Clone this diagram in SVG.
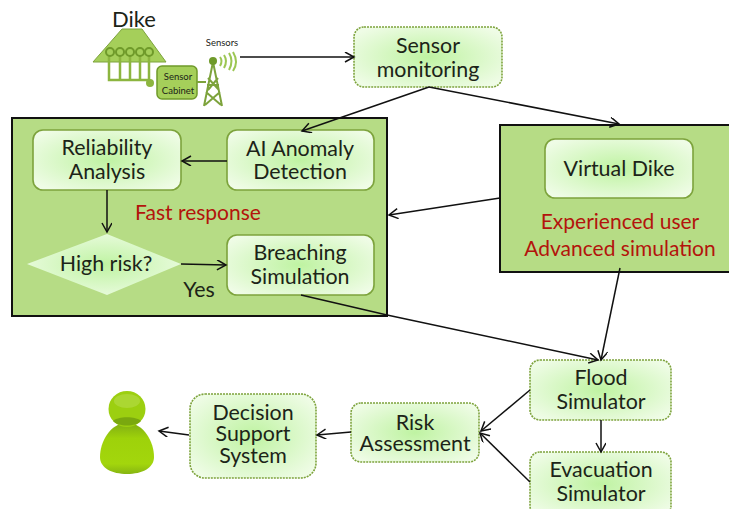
<svg xmlns="http://www.w3.org/2000/svg" width="729" height="509" viewBox="0 0 729 509">
<style>
text{font-family:Lato,"Open Sans","Liberation Sans",sans-serif;fill:#1c2418;text-anchor:middle}
.n{font-size:21.4px}
.r{font-size:21px;fill:#b3140c}
.box{fill:url(#g);stroke:#7da33c;stroke-width:1.6}
.dash{stroke-dasharray:2 1}
.panel{fill:#b6dc85;stroke:#111;stroke-width:2}
.c{fill:none;stroke:#111;stroke-width:1.5;marker-end:url(#a)}
.g1{fill:none;stroke:#8cb53f;stroke-width:2.5}
</style>
<defs>
<radialGradient id="g" cx="50%" cy="50%" r="62%"><stop offset="0" stop-color="#bff3a2"/><stop offset="1" stop-color="#effcE6"/></radialGradient>
<marker id="a" markerWidth="12" markerHeight="12" refX="10" refY="5" orient="auto" markerUnits="userSpaceOnUse"><path d="M1 0L10 5L1 10" fill="none" stroke="#111" stroke-width="1.5"/></marker>
<linearGradient id="p" x1="0" y1="0" x2="0" y2="1"><stop offset="0" stop-color="#80ad14"/><stop offset=".3" stop-color="#9ed20a"/><stop offset=".8" stop-color="#a3d60c"/><stop offset="1" stop-color="#86b512"/></linearGradient>
</defs>
<rect id="fast-panel" class="panel" x="12" y="118" width="375" height="198"/>
<rect id="virtual-panel" class="panel" x="500" y="125" width="232" height="147"/>
<g id="dike">
<text x="134" y="27" style="font-size:22px">Dike</text>
<path d="M93 62L122 29H142L166 62Z" fill="#a5cf5a" stroke="#7da33c"/>
<g class="g1"><path d="M109 56V80H150M120 56V80M130 56V80M140 56V80M149 56V80"/></g>
<g fill="#a5cf5a" stroke="#6f9a2a" stroke-width="2"><circle cx="110" cy="52" r="4"/><circle cx="120" cy="52" r="4"/><circle cx="130" cy="52" r="4"/><circle cx="140" cy="52" r="4"/><circle cx="149" cy="52" r="4"/></g>
<circle cx="150" cy="83" r="4" fill="#8cb53f"/>
</g>
<g id="sensor-cabinet">
<rect x="157" y="66" width="40" height="33" rx="5" fill="#a5cf5a" stroke="#6f9a2a" stroke-width="1.5"/>
<text x="178" y="80" style="font-size:9.5px">Sensor</text>
<text x="178" y="94" style="font-size:9.5px">Cabinet</text>
</g>
<g id="sensors">
<text x="222" y="46" style="font-size:9.5px">Sensors</text>
<path d="M197 82H206M213 62L204 106M213 62L222 106M207 85H219M206 92L221 105M220 92L205 105M208 78L219 90M218 78L208 90" fill="none" stroke="#7da33c" stroke-width="2"/>
<circle cx="213" cy="61" r="4" fill="#6f9a2a"/>
<path d="M220 57q3 4 0 9M224 55q4 6 0 13M229 53q5 8 0 17M233 52q6 10 0 19" fill="none" stroke="#9cc653" stroke-width="2"/>
</g>
<g id="sensor-monitoring"><rect class="box dash" x="354" y="27" width="148" height="60" rx="10"/><text class="n" x="428" y="53">Sensor</text><text class="n" x="428" y="77">monitoring</text></g>
<g id="reliability"><rect class="box" x="33" y="130" width="148" height="60" rx="10"/><text class="n" x="107" y="155">Reliability</text><text class="n" x="107" y="179">Analysis</text></g>
<g id="anomaly"><rect class="box" x="227" y="130" width="147" height="60" rx="10"/><text class="n" x="300" y="156">AI Anomaly</text><text class="n" x="300" y="179">Detection</text></g>
<g id="high-risk"><path d="M27 264L107 234L181 264L107 295Z" fill="url(#g)"/><text class="n" x="106" y="271">High risk?</text></g>
<g id="breaching"><rect class="box" x="227" y="235" width="147" height="60" rx="10"/><text class="n" x="300" y="260">Breaching</text><text class="n" x="300" y="284">Simulation</text></g>
<text class="r" x="198" y="220">Fast response</text>
<text class="n" x="199" y="297">Yes</text>
<g id="virtual-dike"><rect class="box" x="545" y="139" width="148" height="59" rx="10"/><text class="n" x="619" y="176">Virtual Dike</text></g>
<text class="r" x="620" y="229">Experienced user</text>
<text class="r" x="620" y="256">Advanced simulation</text>
<g id="flood"><rect class="box dash" x="530" y="360" width="141" height="60" rx="10"/><text class="n" x="601" y="385">Flood</text><text class="n" x="601" y="409">Simulator</text></g>
<g id="evacuation"><rect class="box dash" x="530" y="452" width="141" height="64" rx="10"/><text class="n" x="601" y="477">Evacuation</text><text class="n" x="601" y="501">Simulator</text></g>
<g id="risk"><rect class="box dash" x="351" y="403" width="128" height="59" rx="10"/><text class="n" x="415" y="430">Risk</text><text class="n" x="415" y="451">Assessment</text></g>
<g id="decision"><rect class="box dash" x="190" y="394" width="126" height="84" rx="15"/><text class="n" x="253" y="420">Decision</text><text class="n" x="253" y="441">Support</text><text class="n" x="253" y="463">System</text></g>
<g id="user">
<path d="M127 423C110 423 100 442 100 457C100 468 112 474 127 474C142 474 154 468 154 457C154 442 144 423 127 423Z" fill="url(#p)"/>
<ellipse cx="127" cy="409" rx="18.5" ry="18" fill="#9ccf10"/>
<path d="M113 421C118 427 136 427 141 421C136 416 118 416 113 421Z" fill="#7aa80f"/>
<ellipse cx="127" cy="401" rx="13" ry="7" fill="#b5dc4a" opacity=".6"/>
</g>
<g id="connectors">
<path class="c" d="M240 57H354"/>
<path class="c" d="M429 87L302 131"/>
<path class="c" d="M429 87L619 124"/>
<path class="c" d="M500 198L389 215"/>
<path class="c" d="M620 268L601 360"/>
<path class="c" d="M301 295L387 315L598 360"/>
<path class="c" d="M227 161H182"/>
<path class="c" d="M107 190V232"/>
<path class="c" d="M181 264L226 265"/>
<path class="c" d="M601 420V452"/>
<path class="c" d="M530 390L481 431"/>
<path class="c" d="M530 482L480 433"/>
<path class="c" d="M351 432L317 435"/>
<path class="c" d="M189 435L159 431"/>
</g>
</svg>
